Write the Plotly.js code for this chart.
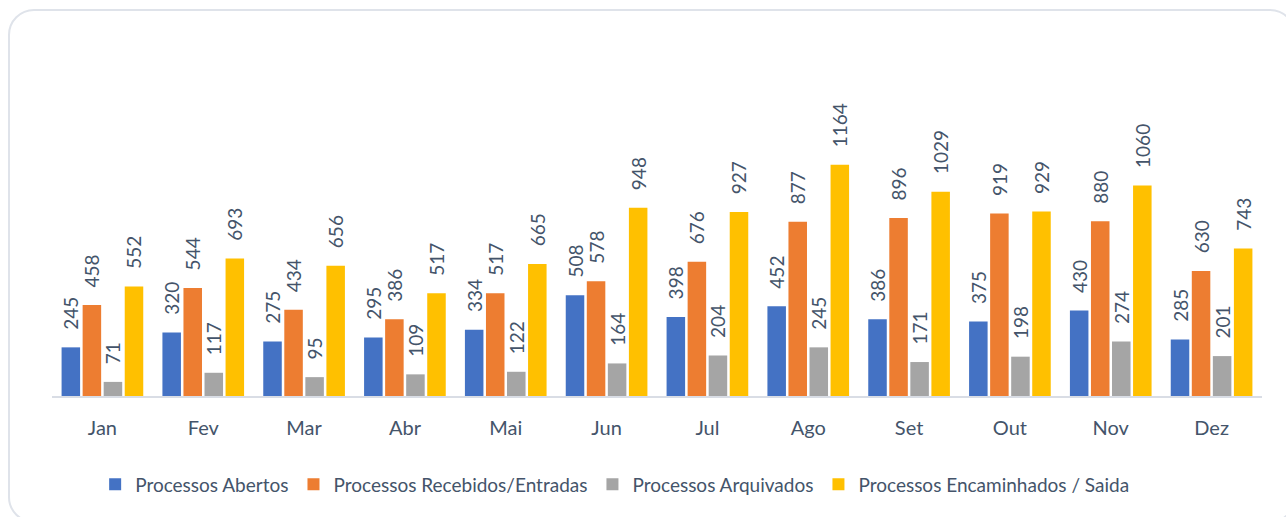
<!DOCTYPE html>
<html>
<head>
<meta charset="utf-8">
<script src="https://cdn.plot.ly/plotly-3.0.1.min.js"></script>
<style>
  html, body { margin: 0; padding: 0; background: #ffffff; overflow: hidden; }
  #frame { position: absolute; left: 8px; top: 9px; width: 1288px; height: 514px;
           box-sizing: border-box; border: 2px solid #dfe3ea; border-radius: 26px; }
  #chart { position: absolute; left: 0; top: 0; width: 1286px; height: 517px; }
</style>
</head>
<body>
<div id="frame"></div>
<div id="chart"></div>
<script>
const months = ["Jan","Fev","Mar","Abr","Mai","Jun","Jul","Ago","Set","Out","Nov","Dez"];
const abertos = [245, 320, 275, 295, 334, 508, 398, 452, 386, 375, 430, 285];
const recebidos = [458, 544, 434, 386, 517, 578, 676, 877, 896, 919, 880, 630];
const arquivados = [71, 117, 95, 109, 122, 164, 204, 245, 171, 198, 274, 201];
const encaminhados = [552, 693, 656, 517, 665, 948, 927, 1164, 1029, 929, 1060, 743];

const seriesNames = ["Processos Abertos", "Processos Recebidos/Entradas", "Processos Arquivados", "Processos Encaminhados / Saida"];
const seriesColors = ["#4472c4", "#ed7d31", "#a5a5a5", "#ffc000"];
const seriesData = [abertos, recebidos, arquivados, encaminhados];

const textColor = "#44546a";
const fontFam = "Lato, 'Open Sans', sans-serif";
const labelPad = "\u00a0\u00a0\u00a0";

const traces = seriesData.map((vals, i) => ({
  type: "bar",
  name: seriesNames[i],
  x: months,
  y: vals,
  marker: { color: seriesColors[i] },
  text: vals.map(v => labelPad + v),
  textposition: "outside",
  textangle: -90,
  constraintext: "none",
  cliponaxis: false,
  textfont: { family: fontFam, size: 19, color: textColor },
  hoverinfo: "x+y+name"
}));

const layout = {
  width: 1286,
  height: 517,
  margin: { l: 52, r: 24, t: 118, b: 121 },
  paper_bgcolor: "rgba(0,0,0,0)",
  plot_bgcolor: "rgba(0,0,0,0)",
  barmode: "group",
  bargap: 0.165,
  bargroupgap: 0.12,
  font: { family: fontFam, color: textColor },
  xaxis: {
    showline: true,
    linecolor: "#d9dde5",
    linewidth: 2,
    ticks: "",
    ticklabelstandoff: 13,
    tickfont: { family: fontFam, size: 20, color: textColor },
    showgrid: false
  },
  yaxis: {
    range: [0, 1400],
    visible: false,
    showgrid: false,
    zeroline: false
  },
  showlegend: true,
  legend: {
    orientation: "h",
    x: 0.465,
    xanchor: "center",
    y: -0.25,
    yanchor: "top",
    font: { family: fontFam, size: 19, color: textColor },
    itemwidth: 30,
    traceorder: "normal"
  }
};

Plotly.newPlot("chart", traces, layout, { displayModeBar: false, staticPlot: true });
</script>
</body>
</html>
